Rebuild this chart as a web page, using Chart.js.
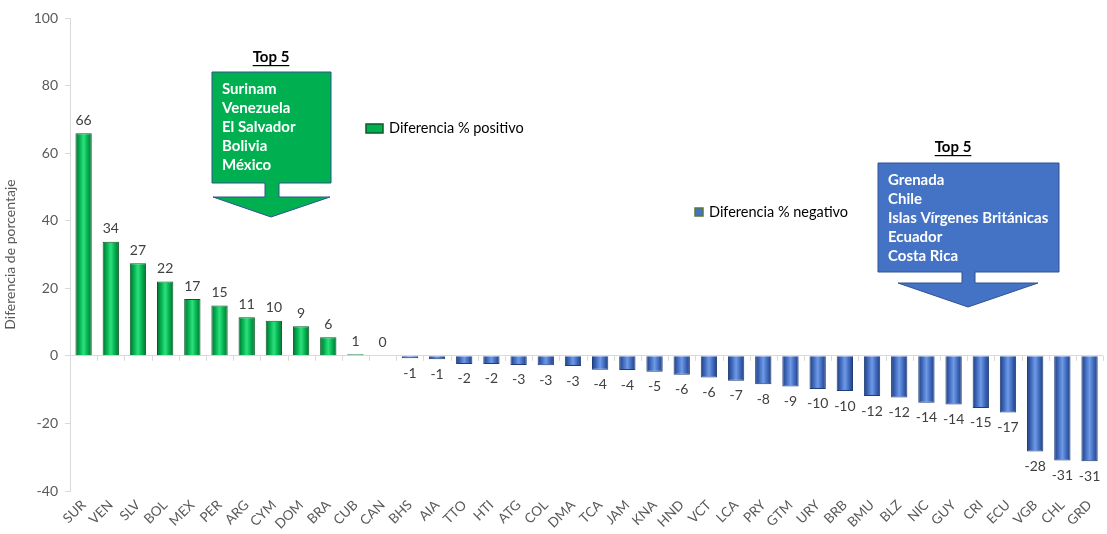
<!DOCTYPE html>
<html>
<head>
<meta charset="utf-8">
<script src="https://cdn.jsdelivr.net/npm/chart.js@4"></script>
<style>
  body { margin: 0; background: #fff; }
  #wrap { width: 1107px; height: 534px; }
</style>
</head>
<body>
<div id="wrap"><canvas id="dif"></canvas></div>
<script>
const codes = [
  "SUR", "VEN", "SLV", "BOL", "MEX", "PER", "ARG", "CYM", "DOM", "BRA", "CUB",
  "CAN", "BHS", "AIA", "TTO", "HTI", "ATG", "COL", "DMA", "TCA", "JAM", "KNA",
  "HND", "VCT", "LCA", "PRY", "GTM", "URY", "BRB", "BMU", "BLZ", "NIC", "GUY",
  "CRI", "ECU", "VGB", "CHL", "GRD",
];
const diff = [
  65.9, 33.8, 27.4, 22.0, 16.8, 14.9, 11.4, 10.4, 8.8, 5.5, 0.5,
  0.0, -0.7, -1.0, -2.4, -2.4, -2.7, -2.8, -3.0, -4.1, -4.2, -4.7,
  -5.6, -6.4, -7.4, -8.4, -9.1, -9.8, -10.4, -11.9, -12.3, -13.9, -14.4,
  -15.4, -16.8, -28.3, -31.0, -31.2,
];
const diffLabels = [
  66, 34, 27, 22, 17, 15, 11, 10, 9, 6, 1,
  0, -1, -1, -2, -2, -3, -3, -3, -4, -4, -5,
  -6, -6, -7, -8, -9, -10, -10, -12, -12, -14, -14,
  -15, -17, -28, -31, -31,
];
const topPositive = ["Surinam", "Venezuela", "El Salvador", "Bolivia", "México"];
const topNegative = ["Grenada", "Chile", "Islas Vírgenes Británicas", "Ecuador", "Costa Rica"];
const yTicks = [100, 80, 60, 40, 20, 0, -20, -40];

const positive = diff.map(v => (v >= 0 ? v : null));
const negative = diff.map(v => (v < 0 ? v : null));

const FONT = "Lato, 'Open Sans', sans-serif";

function bevel(light, mid, dark) {
  return function (ctx) {
    const chart = ctx.chart;
    const xs = chart.scales.x;
    if (!xs || !chart.chartArea) return mid;
    const cx = xs.getPixelForValue(ctx.dataIndex);
    const half = (xs.width / codes.length) * 0.6 / 2;
    const g = chart.ctx.createLinearGradient(cx - half, 0, cx + half, 0);
    g.addColorStop(0, dark);
    g.addColorStop(0.25, mid);
    g.addColorStop(0.5, light);
    g.addColorStop(0.75, mid);
    g.addColorStop(1, dark);
    return g;
  };
}

// value labels, callouts and the two legend entries
const extras = {
  id: "extras",
  afterDatasetsDraw(chart) {
    const c = chart.ctx;
    c.save();
    c.font = "14px " + FONT;
    c.fillStyle = "#404040";
    c.textAlign = "center";
    const y0 = chart.scales.y.getPixelForValue(0);
    diff.forEach((v, i) => {
      const ds = v >= 0 ? 0 : 1;
      const bar = chart.getDatasetMeta(ds).data[i];
      const x = bar.x;
      if (v >= 0) {
        c.textBaseline = "bottom";
        c.fillText(String(diffLabels[i]), x, Math.min(bar.y, y0) - 6);
      } else {
        c.textBaseline = "top";
        c.fillText(String(diffLabels[i]), x, bar.y + 8);
      }
    });

    // tick marks along the zero line
    const xs = chart.scales.x;
    const step = xs.width / codes.length;
    c.strokeStyle = "#d9d9d9";
    c.lineWidth = 1;
    c.beginPath();
    for (let i = 0; i <= codes.length; i++) {
      const x = Math.round(xs.left + i * step) + 0.5;
      c.moveTo(x, y0);
      c.lineTo(x, y0 + 5);
    }
    c.stroke();

    function callout(box, stem, head, fill, lines, title) {
      c.beginPath();
      c.moveTo(box.l, box.t);
      c.lineTo(box.r, box.t);
      c.lineTo(box.r, box.b);
      c.lineTo(stem.r, box.b);
      c.lineTo(stem.r, head.y);
      c.lineTo(head.r, head.y);
      c.lineTo(head.tx, head.ty);
      c.lineTo(head.l, head.y);
      c.lineTo(stem.l, head.y);
      c.lineTo(stem.l, box.b);
      c.lineTo(box.l, box.b);
      c.closePath();
      c.fillStyle = fill;
      c.fill();
      c.strokeStyle = "#2f528f";
      c.lineWidth = 1;
      c.stroke();
      c.font = "bold 15px " + FONT;
      c.fillStyle = "#ffffff";
      c.textAlign = "left";
      c.textBaseline = "middle";
      lines.forEach((t, k) => c.fillText(t, box.l + 10, box.t + 17 + k * 19));
      c.fillStyle = "#000000";
      c.textAlign = "center";
      c.fillText("Top 5", title.x, title.y);
      const w = c.measureText("Top 5").width;
      c.fillRect(title.x - w / 2, title.y + 8, w, 1.2);
    }
    callout({ l: 212, t: 72, r: 331, b: 183 }, { l: 265, r: 279 },
      { y: 197, l: 213, r: 330, tx: 271, ty: 217 }, "#00b050", topPositive, { x: 271, y: 57 });
    callout({ l: 878, t: 163, r: 1059, b: 272 }, { l: 962, r: 975 },
      { y: 283, l: 898, r: 1038, tx: 968, ty: 307 }, "#4472c4", topNegative, { x: 953, y: 147 });

    function legendItem(x, y, w, h, fill, edge, text) {
      c.fillStyle = fill;
      c.fillRect(x, y, w, h);
      c.strokeStyle = edge;
      c.lineWidth = 1.5;
      c.strokeRect(x, y, w, h);
      c.font = "14.5px " + FONT;
      c.fillStyle = "#000000";
      c.textAlign = "left";
      c.textBaseline = "middle";
      c.fillText(text, x + w + 6, y + h / 2);
    }
    legendItem(366, 124, 17, 9, "#00b050", "#0a5a28", "Diferencia % positivo");
    legendItem(695, 208, 8, 8, "#4472c4", "#5a7a3a", "Diferencia % negativo");
    c.restore();
  },
};

new Chart("dif", {
  type: "bar",
  data: {
    labels: codes,
    datasets: [
      {
        label: "Diferencia % positivo",
        data: positive,
        backgroundColor: bevel("#2ee07a", "#00b050", "#0b6b2e"),
        borderColor: "#0a5a28",
        borderWidth: 1,
        barPercentage: 0.6,
        categoryPercentage: 1,
      },
      {
        label: "Diferencia % negativo",
        data: negative,
        backgroundColor: bevel("#6f9ae6", "#3f69bd", "#1f3d7a"),
        borderColor: "#1f3d7a",
        borderWidth: 1,
        barPercentage: 0.6,
        categoryPercentage: 1,
      },
    ],
  },
  options: {
    responsive: true,
    maintainAspectRatio: false,
    animation: false,
    layout: { padding: { top: 18, right: 0, left: 2, bottom: 0 } },
    plugins: { legend: { display: false }, tooltip: { enabled: false } },
    scales: {
      x: {
        stacked: true,
        afterFit: (s) => { s.height = 43; },
        grid: { display: false, drawTicks: false },
        border: { display: false },
        ticks: {
          color: "#595959",
          font: { family: FONT, size: 13.5 },
          autoSkip: false,
          minRotation: 45,
          maxRotation: 45,
          padding: 6,
        },
      },
      y: {
        stacked: true,
        min: -40,
        max: 100,
        afterFit: (s) => { s.width = 68; },
        afterBuildTicks: (s) => { s.ticks = yTicks.map(v => ({ value: v })); },
        grid: {
          drawOnChartArea: true,
          color: (ctx) => (ctx.tick && ctx.tick.value === 0 ? "#d9d9d9" : "rgba(0,0,0,0)"),
          tickColor: "#d9d9d9",
          tickLength: 5,
        },
        border: { display: true, color: "#d9d9d9" },
        ticks: { color: "#595959", font: { family: FONT, size: 14 }, padding: 7 },
        title: {
          display: true,
          text: "Diferencia de porcentaje",
          color: "#595959",
          font: { family: FONT, size: 14 },
          padding: { top: 0, bottom: 4 },
        },
      },
    },
  },
  plugins: [extras],
});
</script>
</body>
</html>
